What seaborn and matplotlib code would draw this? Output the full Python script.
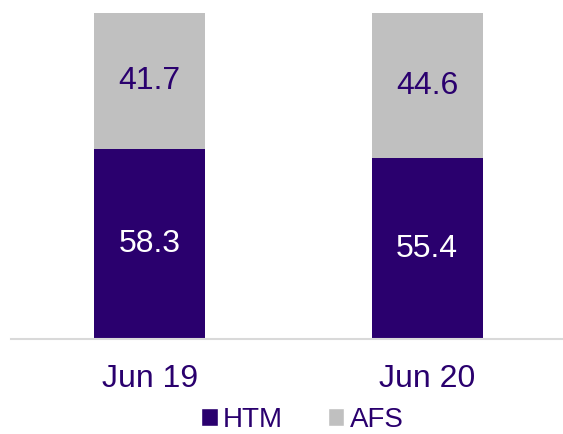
import matplotlib
matplotlib.use('Agg')
import matplotlib.pyplot as plt
import seaborn as sns
import pandas as pd
from matplotlib.patches import Patch

# data
periods = ['Jun 19', 'Jun 20']
htm = [58.3, 55.4]
afs = [41.7, 44.6]

sns.set_style('white')
plt.rcParams['font.family'] = ['Liberation Sans', 'DejaVu Sans']

purple = '#2A006E'
grey = '#C0C0C0'

df = pd.DataFrame({'period': periods, 'HTM': htm, 'AFS': afs})
df['total'] = df['HTM'] + df['AFS']

fig = plt.figure(figsize=(5.63, 4.34), dpi=100)
ax = fig.add_axes([11 / 563, 95 / 434, 1 - 11 / 563, 326 / 434])

sns.barplot(data=df, x='period', y='total', color=grey, width=0.4,
            saturation=1, linewidth=0, ax=ax)
sns.barplot(data=df, x='period', y='HTM', color=purple, width=0.4,
            saturation=1, linewidth=0, ax=ax)

for i, (h, a) in enumerate(zip(htm, afs)):
    ax.text(i, h / 2, f'{h:.1f}', ha='center', va='center',
            color='white', fontsize=23)
    ax.text(i, h + a / 2, f'{a:.1f}', ha='center', va='center',
            color=purple, fontsize=23)

ax.set_xlim(-0.5, 1.49)
ax.set_ylim(0, 100)
ax.set_xlabel('')
ax.set_ylabel('')
ax.set_yticks([])
ax.tick_params(axis='x', length=0, labelsize=23, labelcolor=purple, pad=18)
for s in ['top', 'right', 'left']:
    ax.spines[s].set_visible(False)
ax.spines['bottom'].set_color('#D9D9D9')
ax.spines['bottom'].set_linewidth(1.5)

handles = [Patch(facecolor=purple, label='HTM'),
           Patch(facecolor=grey, label='AFS')]
leg = fig.legend(handles=handles, loc='center', bbox_to_anchor=(0.537, 0.033),
                 ncol=2, frameon=False, fontsize=20, handlelength=0.6,
                 handleheight=0.6, handletextpad=0.2, columnspacing=1.6,
                 borderpad=0.1)
for t in leg.get_texts():
    t.set_color(purple)

fig.savefig('out.png', dpi=100)
